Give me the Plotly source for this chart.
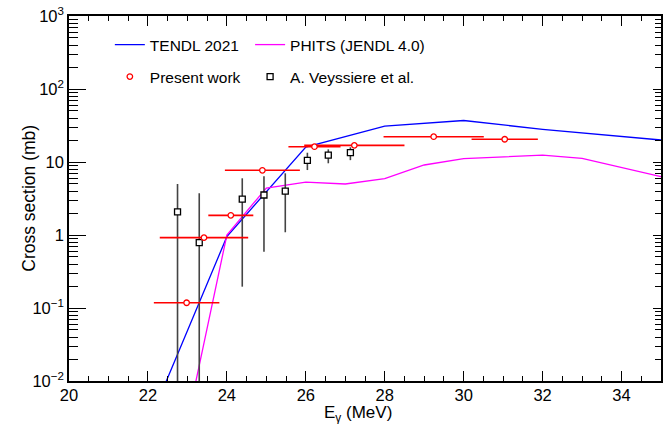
import plotly.graph_objects as go

# ---- data ----
tendl_e = [22, 24, 26, 28, 30, 32, 35]
tendl_xs = [0.0025, 0.95, 16, 31, 37, 28, 20]

phits_e = [23, 24, 25, 26, 27, 28, 29, 30, 32, 33, 35]
phits_xs = [0.0028, 1.0, 4.4, 5.3, 5.0, 5.9, 9.1, 11.1, 12.4, 11.2, 6.3]

pw_e = [22.98, 23.42, 24.10, 24.90, 26.22, 27.23, 29.24, 31.04]
pw_xs = [0.118, 0.92, 1.86, 7.7, 16.2, 16.9, 22.2, 20.5]
pw_de = [0.83, 1.12, 0.57, 0.95, 0.66, 1.27, 1.27, 0.84]

vey_e = [22.75, 23.30, 24.39, 24.94, 25.48, 26.04, 26.57, 27.13]
vey_xs = [2.07, 0.785, 3.11, 3.53, 4.0, 10.5, 12.4, 13.4]
vey_hi = [5.0, 3.72, 5.98, 6.4, 7.0, 13.4, 14.9, 15.9]
vey_lo = [0.001, 0.001, 0.196, 0.59, 1.09, 7.76, 9.6, 10.6]

x_tickvals = [20, 22, 24, 26, 28, 30, 32, 34]
y_tickvals = [0.01, 0.1, 1, 10, 100, 1000]
y_ticktext = ["10<sup>−2</sup>", "10<sup>−1</sup>", "1", "10", "10<sup>2</sup>", "10<sup>3</sup>"]

FONT = "Liberation Sans, Arial, Helvetica, sans-serif"
LEG_FONT = 15.5

fig = go.Figure()
fig.add_trace(go.Scatter(x=tendl_e, y=tendl_xs, mode="lines", name="TENDL 2021",
                         line=dict(color="#0000ff", width=1.3), legend="legend", showlegend=True))
fig.add_trace(go.Scatter(x=phits_e, y=phits_xs, mode="lines", name="PHITS (JENDL 4.0)",
                         line=dict(color="#ff00ff", width=1.3), legend="legend2", showlegend=True))
fig.add_trace(go.Scatter(
    x=vey_e, y=vey_xs, mode="markers", name="A. Veyssiere et al.",
    marker=dict(symbol="square", size=6, color="white", line=dict(color="black", width=1.3)),
    error_y=dict(type="data", symmetric=False,
                 array=[h - v for h, v in zip(vey_hi, vey_xs)],
                 arrayminus=[v - l for v, l in zip(vey_xs, vey_lo)],
                 color="#444444", thickness=1.6, width=0),
    legend="legend4", showlegend=True))
fig.add_trace(go.Scatter(
    x=pw_e, y=pw_xs, mode="markers", name="Present work",
    marker=dict(symbol="circle", size=5.5, color="white", line=dict(color="#ff0000", width=1.3)),
    error_x=dict(type="data", array=pw_de, color="#ff0000", thickness=1.6, width=0),
    legend="legend3", showlegend=True))
# right-hand mirror axis (no data)
fig.add_trace(go.Scatter(x=[], y=[], yaxis="y2", showlegend=False, hoverinfo="skip"))

def leg(x, y):
    return dict(orientation="h", x=x, xanchor="left", y=y, yanchor="middle",
                bgcolor="rgba(0,0,0,0)", font=dict(size=LEG_FONT), itemwidth=30)

fig.update_layout(
    width=664, height=424,
    showlegend=True,
    margin=dict(l=69, r=1, t=16, b=43),
    paper_bgcolor="white", plot_bgcolor="white",
    font=dict(family=FONT, size=15, color="black"),
    xaxis=dict(range=[20, 35], tickmode="array", tickvals=x_tickvals,
               ticks="inside", ticklen=10, tickwidth=1, tickcolor="black",
               minor=dict(dtick=0.5, tick0=20, ticks="inside", ticklen=5, tickcolor="black", showgrid=False),
               showline=True, linecolor="black", linewidth=1.5, mirror="ticks",
               showgrid=False, zeroline=False, ticklabelstandoff=-2,
               tickfont=dict(size=16.5)),
    yaxis=dict(type="log", range=[-2, 3], tickmode="array", tickvals=y_tickvals, ticktext=y_ticktext,
               ticks="inside", ticklen=17, tickwidth=1, tickcolor="black",
               minor=dict(dtick="D1", ticks="inside", ticklen=9, tickcolor="black", showgrid=False),
               showline=True, linecolor="black", linewidth=1.5, mirror=True,
               showgrid=False, zeroline=False,
               tickfont=dict(size=16.5)),
    yaxis2=dict(type="log", range=[-2, 3], overlaying="y", side="right",
                tickmode="array", tickvals=y_tickvals, showticklabels=False,
                ticks="inside", ticklen=8, tickwidth=1, tickcolor="black",
                minor=dict(dtick="D1", ticks="inside", ticklen=6, tickcolor="black", showgrid=False),
                showline=False, showgrid=False, zeroline=False),
    legend=leg(0.069, 0.9205),
    legend2=leg(0.3059, 0.9205),
    legend3=leg(0.069, 0.833),
    legend4=leg(0.3059, 0.833),
    annotations=[
        dict(text="Cross section (mb)", textangle=-90, xref="paper", yref="paper",
             x=-0.0689, y=0.5, xanchor="center", yanchor="middle", showarrow=False,
             font=dict(size=17.5)),
        dict(text="E<sub>γ</sub> (MeV)", xref="paper", yref="paper",
             x=0.4886, y=-0.0904, xanchor="center", yanchor="middle", showarrow=False,
             font=dict(size=17)),
    ],
)

fig.write_html("out.html")
